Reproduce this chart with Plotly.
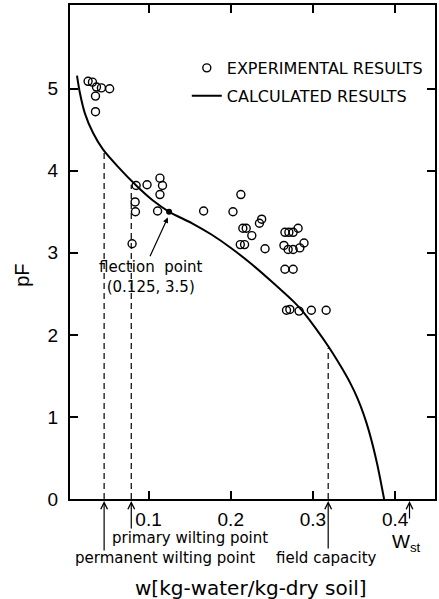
import plotly.graph_objects as go

# ---------------- data ----------------
exp_w = [0.0265, 0.0318, 0.0367, 0.0427, 0.0527, 0.0355, 0.0355,
         0.0849, 0.0982, 0.1139, 0.117, 0.1139, 0.0837, 0.0841, 0.111, 0.080, 0.167,
         0.2027, 0.2123, 0.2376, 0.2349, 0.2147, 0.2188, 0.2256, 0.2116, 0.2168, 0.2417,
         0.2659, 0.2707, 0.2759, 0.2819, 0.2647, 0.2698, 0.2759, 0.284, 0.2891, 0.2659, 0.2759,
         0.2678, 0.2719, 0.2831, 0.298, 0.316]
exp_pF = [5.09, 5.08, 5.02, 5.01, 5.00, 4.91, 4.72,
          3.82, 3.83, 3.91, 3.82, 3.71, 3.62, 3.50, 3.51, 3.11, 3.51,
          3.50, 3.71, 3.41, 3.36, 3.30, 3.30, 3.21, 3.10, 3.10, 3.05,
          3.25, 3.25, 3.25, 3.30, 3.09, 3.04, 3.04, 3.06, 3.12, 2.80, 2.80,
          2.30, 2.31, 2.29, 2.30, 2.30]

calc_w = [0.013, 0.0165, 0.0226, 0.0326, 0.0446, 0.0627, 0.085, 0.105, 0.125, 0.153,
          0.177, 0.2015, 0.2256, 0.2497, 0.278, 0.288, 0.304, 0.320, 0.336, 0.346, 0.354,
          0.361, 0.368, 0.378, 0.3865]
calc_pF = [5.16, 4.95, 4.70, 4.46, 4.26, 4.05, 3.82, 3.64, 3.50, 3.36,
           3.22, 3.05, 2.86, 2.65, 2.39, 2.28, 2.07, 1.84, 1.58, 1.40, 1.23,
           1.05, 0.83, 0.43, 0.0]

infl_w = [0.125]
infl_pF = [3.5]

dash_w = [0.046, 0.079, 0.3185]
dash_top = [4.26, 3.83, 1.84]

mark_w = [0.046, 0.079, 0.3185, 0.4174]
mark_tail = [53, 31, 51, 21]

x_ticks = [0, 0.1, 0.2, 0.3, 0.4]
x_ticklabels = ["0", "0.1", "0.2", "0.3", "0.4"]
y_ticks = [0, 1, 2, 3, 4, 5]
y_ticklabels = ["0", "1", "2", "3", "4", "5"]

FONT = "Liberation Sans"
TFONT = "DejaVu Sans"

fig = go.Figure()

# dashed guide lines
for xv, top in zip(dash_w, dash_top):
    fig.add_trace(go.Scatter(x=[xv, xv], y=[0, top], mode="lines",
                             line=dict(color="black", width=1.2, dash="6px,4px"),
                             showlegend=False, hoverinfo="skip"))

fig.add_trace(go.Scatter(x=exp_w, y=exp_pF, mode="markers", name="EXPERIMENTAL RESULTS",
                         marker=dict(symbol="circle-open", size=8, color="black",
                                     line=dict(width=1.4, color="black")),
                         legendgroup="a"))
fig.add_trace(go.Scatter(x=calc_w, y=calc_pF, mode="lines", name="CALCULATED RESULTS",
                         line=dict(color="black", width=2, shape="spline", smoothing=0.7),
                         legendgroup="b"))
fig.add_trace(go.Scatter(x=infl_w, y=infl_pF, mode="markers", showlegend=False,
                         marker=dict(symbol="circle", size=6, color="black")))

annotations = []
# "0" x tick label (origin slightly left of plot edge)
annotations.append(dict(x=x_ticks[0], y=0, xref="x", yref="y", text=x_ticklabels[0],
                        showarrow=False, yshift=-18, xshift=1,
                        xanchor="center", yanchor="middle",
                        font=dict(size=19, family=FONT, color="black")))

# arrows below axis
for xv, tail in zip(mark_w, mark_tail):
    annotations.append(dict(x=xv, y=0, xref="x", yref="y", text="", showarrow=True,
                            ax=0, ay=tail, axref="pixel", ayref="pixel",
                            arrowhead=5, arrowsize=1.1, arrowwidth=1.2, arrowcolor="black",
                            standoff=2))

lab_font = dict(size=15, family=TFONT, color="black")


def ptext(x, y, text, font, **kw):
    return dict(x=x, y=y, xref="paper", yref="paper", text=text, showarrow=False,
                xanchor="center", yanchor="middle", font=font, **kw)


annotations += [
    ptext(0.33, -0.079, "primary wilting point", lab_font),
    ptext(0.259, -0.119, "permanent wilting point", lab_font),
    ptext(0.703, -0.119, "field capacity", lab_font),
    ptext(0.923, -0.089, "W<sub>st</sub>", dict(size=19, family=FONT, color="black")),
    ptext(0.496, -0.18, "w[kg-water/kg-dry soil]", dict(size=20, family=TFONT, color="black")),
    ptext(-0.13, 0.453, "pF", dict(size=20, family=FONT, color="black"), textangle=-90),
    # inflection point label and arrow
    dict(x=0.103, y=2.71, xref="x", yref="y", text="flection  point<br>(0.125, 3.5)",
         showarrow=False, xanchor="center", yanchor="middle", font=lab_font),
    dict(x=0.1235, y=3.43, xref="x", yref="y", text="", showarrow=True,
         ax=0.101, ay=2.94, axref="x", ayref="y",
         arrowhead=2, arrowsize=0.9, arrowwidth=1.2, arrowcolor="black"),
]

axis_common = dict(showline=True, linecolor="black", linewidth=2, mirror="ticks",
                   ticks="inside", ticklen=8, tickwidth=2, tickcolor="black",
                   showgrid=False, zeroline=False,
                   tickfont=dict(size=19, family=FONT, color="black"))

fig.update_layout(
    width=439, height=599,
    margin=dict(l=70, r=2, t=5, b=100),
    paper_bgcolor="white", plot_bgcolor="white",
    font=dict(family=FONT, color="black"),
    xaxis=dict(range=[0.0045, 0.4484], tickvals=x_ticks[1:], ticktext=x_ticklabels[1:],
               ticklabelstandoff=2, **axis_common),
    yaxis=dict(range=[0, 6.02], tickvals=y_ticks, ticktext=y_ticklabels,
               ticklabelstandoff=6, **axis_common),
    legend=dict(x=0.32, y=0.907, xanchor="left", yanchor="top",
                bgcolor="rgba(0,0,0,0)", font=dict(size=16, family=TFONT, color="black"),
                tracegroupgap=4, traceorder="grouped"),
    annotations=annotations,
)

fig.write_html("out.html")
